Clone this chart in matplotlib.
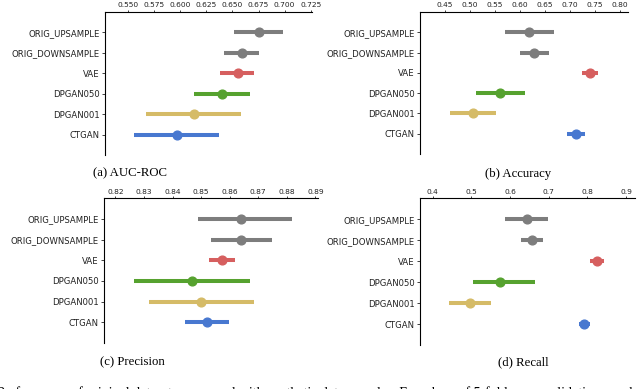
import matplotlib
matplotlib.use("Agg")
import matplotlib.pyplot as plt

#%% data (mean, lower end, upper end of each bar)
models = ['ORIG_UPSAMPLE', 'ORIG_DOWNSAMPLE', 'VAE', 'DPGAN050', 'DPGAN001', 'CTGAN']
colors = ['#7d7d7d', '#7d7d7d', '#d65f5f', '#56a22f', '#d5bb67', '#4878d0']

auc_mean = [0.675, 0.659, 0.655, 0.640, 0.613, 0.597]
auc_lo = [0.651, 0.642, 0.638, 0.613, 0.567, 0.556]
auc_hi = [0.698, 0.675, 0.671, 0.667, 0.658, 0.637]

acc_mean = [0.618, 0.627, 0.739, 0.560, 0.506, 0.711]
acc_lo = [0.569, 0.599, 0.723, 0.511, 0.460, 0.694]
acc_hi = [0.667, 0.657, 0.755, 0.609, 0.552, 0.729]

prec_mean = [0.8641, 0.8641, 0.8573, 0.8468, 0.8500, 0.8519]
prec_lo = [0.8489, 0.8533, 0.8526, 0.8265, 0.8318, 0.8444]
prec_hi = [0.8818, 0.8747, 0.8619, 0.8672, 0.8684, 0.8597]

rec_mean = [0.643, 0.657, 0.825, 0.575, 0.497, 0.792]
rec_lo = [0.587, 0.627, 0.806, 0.505, 0.443, 0.777]
rec_hi = [0.699, 0.685, 0.844, 0.665, 0.551, 0.807]

auc_ticks = [0.550, 0.575, 0.600, 0.625, 0.650, 0.675, 0.700, 0.725]
acc_ticks = [0.45, 0.50, 0.55, 0.60, 0.65, 0.70, 0.75, 0.80]
prec_ticks = [0.82, 0.83, 0.84, 0.85, 0.86, 0.87, 0.88, 0.89]
rec_ticks = [0.4, 0.5, 0.6, 0.7, 0.8, 0.9]

#%% figure
W, H = 640, 389
fig = plt.figure(figsize=(W / 100, H / 100), dpi=100)


def px_axes(x0, x1, y0, y1):
    # axes from pixel box (top-left origin)
    return fig.add_axes([x0 / W, 1 - y1 / H, (x1 - x0) / W, (y1 - y0) / H])


def panel(ax, mean, lo, hi, ticks, fmt, xlim, caption, cap_xy):
    for i in range(len(models)):
        ax.plot([lo[i], hi[i]], [i, i], color=colors[i], lw=2.9,
                solid_capstyle='butt', zorder=2)
        ax.plot(mean[i], i, 'o', color=colors[i], ms=6.3, mec=colors[i], zorder=3)
    ax.set_xlim(xlim)
    ax.set_ylim(6.0, -1.0)
    ax.set_yticks(range(len(models)))
    ax.set_yticklabels(models)
    ax.xaxis.tick_top()
    ax.set_xticks(ticks)
    ax.set_xticklabels([fmt % t for t in ticks])
    for s in ['right', 'bottom']:
        ax.spines[s].set_visible(False)
    for s in ['top', 'left']:
        ax.spines[s].set_linewidth(0.8)
    ax.tick_params(axis='both', width=0.6, colors='#222222')
    ax.tick_params(axis='x', labelsize=5.4, length=1.6, pad=1.0)
    ax.tick_params(axis='y', labelsize=6.1, length=2.5, pad=1.5)
    fig.text(cap_xy[0] / W, 1 - cap_xy[1] / H, caption, ha='center', va='center',
             family='Liberation Serif', fontsize=9.2)


ax1 = px_axes(105, 311.7, 12, 155)
panel(ax1, auc_mean, auc_lo, auc_hi, auc_ticks, '%.3f', (0.5277, 0.726),
      '(a) AUC-ROC', (130, 173))

ax2 = px_axes(420, 628, 12, 154)
panel(ax2, acc_mean, acc_lo, acc_hi, acc_ticks, '%.2f', (0.400, 0.816),
      '(b) Accuracy', (518, 174))

ax3 = px_axes(104, 318, 198.3, 343)
panel(ax3, prec_mean, prec_lo, prec_hi, prec_ticks, '%.2f', (0.8160, 0.8909),
      '(c) Precision', (132, 362))

ax4 = px_axes(420, 635, 198.3, 345)
panel(ax4, rec_mean, rec_lo, rec_hi, rec_ticks, '%.1f', (0.3671, 0.923),
      '(d) Recall', (523, 362))

# figure caption, cut off at the bottom edge like in the source
fig.text(-0.004, 1 - 397 / H,
         'Performance of original datasets compared with synthetic data samples. '
         'Error bars of 5-fold cross-validation are shown as lines around the means',
         ha='left', va='baseline', family='Liberation Serif', fontsize=10)

fig.savefig('out.png', dpi=100)
